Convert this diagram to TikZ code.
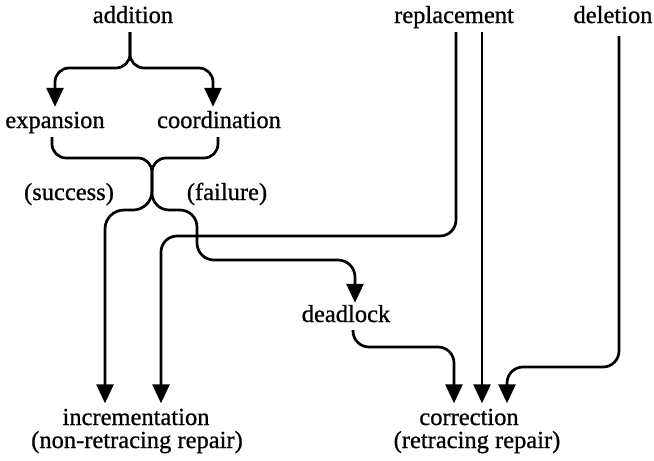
\documentclass[tikz,border=0pt]{standalone}
\usepackage{fontspec}
\newfontfamily\labelfont{Liberation Serif}[FakeBold=0.8]
\usetikzlibrary{arrows.meta}
\begin{document}
\begin{tikzpicture}[x=1pt,y=-1pt,
  lbl/.style={inner sep=0pt, anchor=base, text height=16.5pt, text depth=0pt,
              font=\labelfont\fontsize{24.5}{24.5}\selectfont},
  link/.style={line width=2.7pt},
  flow/.style={link, -{Triangle[length=19pt,width=17pt]}},
]
\useasboundingbox (0,0) rectangle (654,461);

% labels
\node[lbl] (add)   at (133,23)  {addition};
\node[lbl] (repl)  at (454,23)  {replacement};
\node[lbl] (del)   at (613,23)  {deletion};
\node[lbl] (exp)   at (55,128)  {expansion};
\node[lbl] (coord) at (219,128) {coordination};
\node[lbl] (succ)  at (69,200)  {(success)};
\node[lbl] (fail)  at (227,200) {(failure)};
\node[lbl] (dead)  at (346,322) {deadlock};
\node[lbl] (inc)   at (136,425) {incrementation};
\node[lbl] (inc2)  at (137,448) {(non-retracing repair)};
\node[lbl] (corr)  at (469,425) {correction};
\node[lbl] (corr2) at (477,448) {(retracing repair)};

% addition splits into expansion and coordination
\draw[flow, rounded corners=14] ([xshift=-3,yshift=-9]add.south) -- (130,68) -- (55,68) -- ([yshift=4.5]exp.north);
\draw[flow, rounded corners=14] ([xshift=-3,yshift=-9]add.south) -- (130,68) -- (213,68) -- ([xshift=-6,yshift=4.5]coord.north);

% expansion and coordination merge, then split into success / failure
\coordinate (waist) at (152,178);
\draw[link, rounded corners=14] ([xshift=-3,yshift=-9]exp.south) -- (52,158) -- (152,158) -- (waist);
\draw[link, rounded corners=14] ([xshift=-1,yshift=-9]coord.south) -- (218,158) -- (152,158) -- (waist);
\draw[flow, rounded corners=19] (waist) -- (152,210) -- (105,210) -- ([xshift=-31,yshift=5]inc.north);
\draw[flow, rounded corners=17] (waist) -- (152,210) -- (197,210) -- (197,260) -- (355,260) -- ([xshift=9,yshift=2.5]dead.north);

% replacement
\draw[flow, rounded corners=16] ([xshift=2,yshift=-9]repl.south) -- (456,236) -- (161,236) -- ([xshift=25,yshift=5]inc.north);
\draw[flow] ([xshift=28,yshift=-9]repl.south) -- ([xshift=13,yshift=5]corr.north);

% deadlock and deletion lead to correction
\draw[flow, rounded corners=16] ([xshift=7,yshift=-8]dead.south) -- (353,347) -- (454,347) -- ([xshift=-15,yshift=5]corr.north);
\draw[flow, rounded corners=16] ([xshift=6,yshift=-13]del.south) -- (619,367) -- (507,367) -- ([xshift=38,yshift=5]corr.north);
\end{tikzpicture}
\end{document}
